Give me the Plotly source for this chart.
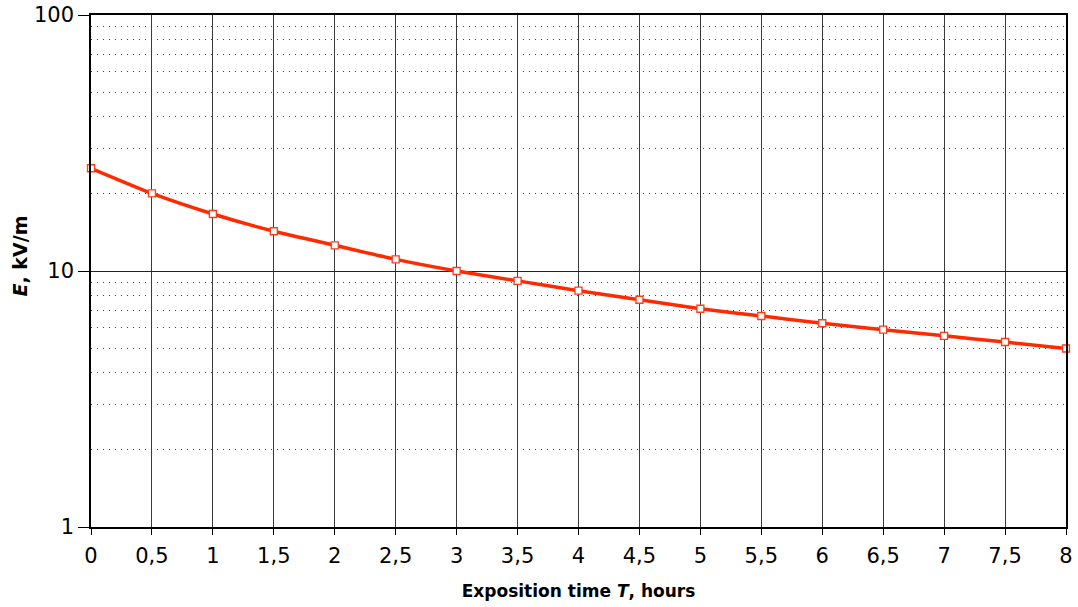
import plotly.graph_objects as go

T_hours = [0, 0.5, 1, 1.5, 2, 2.5, 3, 3.5, 4, 4.5, 5, 5.5, 6, 6.5, 7, 7.5, 8]
E_kVm = [25.2, 20.1, 16.7, 14.3, 12.6, 11.1, 10.0, 9.15, 8.38, 7.72, 7.12, 6.67, 6.25, 5.9, 5.58, 5.28, 4.98]
x_ticks = [0, 0.5, 1, 1.5, 2, 2.5, 3, 3.5, 4, 4.5, 5, 5.5, 6, 6.5, 7, 7.5, 8]
x_ticktext = [str(v).replace(".", ",") for v in x_ticks]
y_ticks = [1, 10, 100]

fig = go.Figure()
fig.add_trace(go.Scatter(
    x=T_hours, y=E_kVm, mode="lines+markers",
    line=dict(color="#ff2a00", width=3.5, shape="spline", smoothing=0.6),
    marker=dict(symbol="square", size=7, color="white",
                line=dict(color="#ff3b1a", width=1.3)),
    showlegend=False, cliponaxis=False,
))

font_family = "DejaVu Sans"
fig.update_layout(
    width=1078, height=607,
    margin=dict(l=91, r=12, t=15, b=80),
    paper_bgcolor="white", plot_bgcolor="white",
    font=dict(family=font_family, size=21, color="black"),
    xaxis=dict(
        range=[0, 8], tickvals=x_ticks, ticktext=x_ticktext,
        showgrid=True, gridcolor="#3a3a3a", gridwidth=1,
        showline=True, linecolor="black", linewidth=1.5, mirror=True,
        ticks="outside", ticklen=6, tickcolor="black", ticklabelstandoff=3,
        zeroline=False, automargin=False,
        title=dict(text="<b>Exposition time <i>T</i>, hours</b>",
                   font=dict(size=17), standoff=18),
    ),
    yaxis=dict(
        type="log", range=[0, 2], tickvals=y_ticks, ticktext=["1", "10", "100"],
        showgrid=True, gridcolor="#222222", gridwidth=1,
        showline=True, linecolor="black", linewidth=1.5, mirror=True,
        ticks="outside", ticklen=11, tickcolor="black",
        zeroline=False, automargin=False,
        minor=dict(dtick="D1", showgrid=True, gridcolor="#444444",
                   griddash="1px,5px", gridwidth=1, ticks=""),
    ),
    annotations=[dict(
        text="<b><i>E</i>, kV/m</b>", textangle=-90, showarrow=False,
        xref="paper", yref="paper", x=-0.073, y=0.53,
        xanchor="center", yanchor="middle", font=dict(size=19),
    )],
)
fig.write_html("out.html", post_script="document.body.style.margin='0';",
               config={"displayModeBar": False})
